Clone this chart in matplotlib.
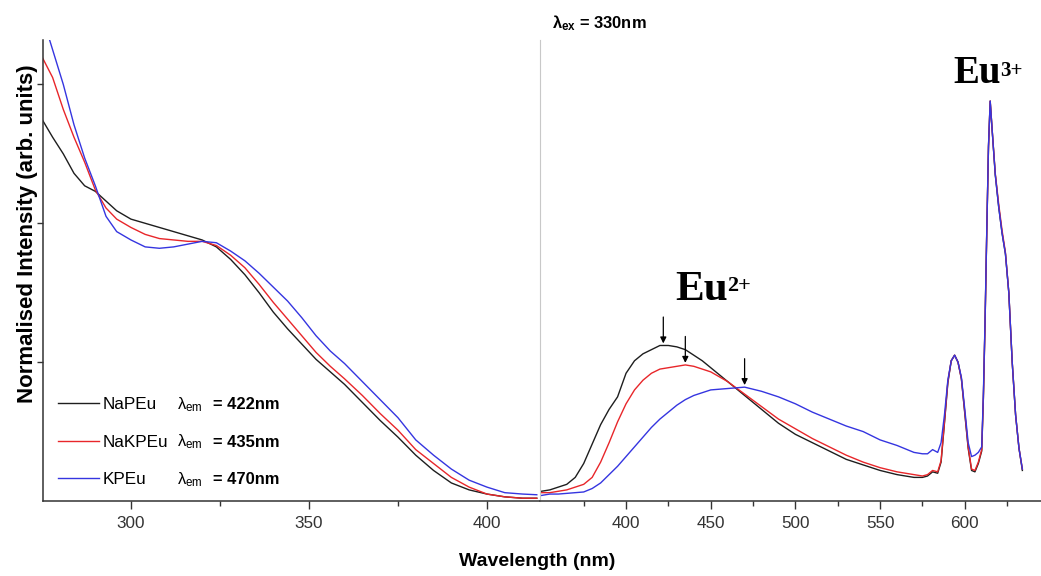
import numpy as np
import matplotlib
matplotlib.use('Agg')
import matplotlib.pyplot as plt
import matplotlib.ticker as ticker
from matplotlib import font_manager

installed = {f.name for f in font_manager.fontManager.ttflist}
if 'Liberation Sans Narrow' in installed:
    NARROW, k = 'Liberation Sans Narrow', 1.0
else:
    NARROW, k = 'Liberation Sans', 0.85
SANS = [NARROW, 'DejaVu Sans']
SERIF = ['Liberation Serif', 'DejaVu Serif']
plt.rcParams['font.family'] = SANS

# excitation spectra (left panel), normalised units
exc_nm = [275, 278, 281, 284, 287, 290, 293, 296, 300, 304, 308, 312, 316, 320,
          324, 328, 332, 336, 340, 344, 348, 352, 356, 360, 365, 370, 375, 380,
          385, 390, 395, 400, 405, 410, 414]
exc_napeu = [2.75, 2.62, 2.50, 2.36, 2.27, 2.23, 2.16, 2.09, 2.03, 2.00, 1.97, 1.94,
             1.91, 1.88, 1.83, 1.74, 1.63, 1.50, 1.36, 1.24, 1.13, 1.02, 0.93, 0.84,
             0.71, 0.58, 0.46, 0.33, 0.22, 0.13, 0.08, 0.05, 0.03, 0.02, 0.02]
exc_nakpeu = [3.20, 3.05, 2.82, 2.62, 2.44, 2.24, 2.11, 2.03, 1.97, 1.92, 1.89, 1.88,
              1.87, 1.87, 1.84, 1.77, 1.68, 1.56, 1.43, 1.31, 1.19, 1.07, 0.97, 0.88,
              0.76, 0.63, 0.51, 0.37, 0.27, 0.17, 0.10, 0.05, 0.03, 0.02, 0.02]
exc_kpeu = [3.50, 3.25, 3.00, 2.71, 2.47, 2.27, 2.05, 1.94, 1.88, 1.83, 1.82, 1.83,
            1.85, 1.87, 1.86, 1.80, 1.73, 1.64, 1.54, 1.44, 1.32, 1.19, 1.08, 0.99,
            0.86, 0.73, 0.60, 0.44, 0.33, 0.23, 0.15, 0.10, 0.06, 0.05, 0.045]

# emission spectra (right panel), lambda_ex = 330 nm
em_nm = [350, 355, 360, 365, 370, 375, 380, 385, 390, 395, 400, 405, 410, 415, 420,
         425, 430, 435, 440, 445, 450,
         460, 470, 480, 490, 500, 510, 520, 530, 540, 550, 560, 570,
         575, 578, 581, 584,
         586, 588, 590, 592, 594, 596, 598, 600, 602, 604, 606, 608, 610,
         611, 612, 613, 614, 615, 616,
         618, 620, 622, 624, 626, 628, 630, 632, 634]
em_napeu = [0.07, 0.08, 0.10, 0.12, 0.17, 0.27, 0.41, 0.55, 0.66, 0.75, 0.92, 1.01,
            1.06, 1.09, 1.12, 1.12, 1.11, 1.09, 1.05, 1.01, 0.96,
            0.86, 0.76, 0.66, 0.56, 0.48, 0.42, 0.36, 0.30, 0.26, 0.22, 0.19, 0.17,
            0.17, 0.18, 0.21, 0.20,
            0.28, 0.56, 0.85, 1.01, 1.05, 1.00, 0.88, 0.63, 0.38, 0.22, 0.21, 0.27, 0.36,
            0.75, 1.30, 1.95, 2.55, 2.88, 2.70,
            2.35, 2.12, 1.93, 1.78, 1.50, 1.00, 0.62, 0.38, 0.22]
em_nakpeu = [0.06, 0.06, 0.07, 0.08, 0.10, 0.12, 0.17, 0.28, 0.42, 0.57, 0.70, 0.80,
             0.87, 0.92, 0.95, 0.96, 0.97, 0.98, 0.97, 0.95, 0.93,
             0.86, 0.77, 0.68, 0.59, 0.52, 0.45, 0.39, 0.33, 0.28, 0.24, 0.21, 0.19,
             0.18, 0.19, 0.22, 0.21,
             0.29, 0.57, 0.86, 1.01, 1.05, 1.00, 0.88, 0.64, 0.39, 0.23, 0.22, 0.28, 0.37,
             0.75, 1.30, 1.95, 2.55, 2.88, 2.70,
             2.36, 2.14, 1.95, 1.79, 1.50, 1.00, 0.62, 0.38, 0.23]
em_kpeu = [0.04, 0.05, 0.05, 0.055, 0.06, 0.065, 0.09, 0.13, 0.19, 0.25, 0.32, 0.39,
           0.46, 0.53, 0.59, 0.64, 0.69, 0.73, 0.76, 0.78, 0.80,
           0.81, 0.82, 0.79, 0.75, 0.70, 0.64, 0.59, 0.54, 0.50, 0.44, 0.40, 0.35,
           0.34, 0.34, 0.37, 0.35,
           0.42, 0.62, 0.87, 1.01, 1.05, 1.00, 0.89, 0.66, 0.42, 0.32, 0.33, 0.35, 0.39,
           0.78, 1.32, 1.96, 2.56, 2.88, 2.70,
           2.35, 2.12, 1.93, 1.78, 1.50, 1.00, 0.62, 0.38, 0.23]

samples = ['NaPEu', 'NaKPEu', 'KPEu']
em_peaks = [422, 435, 470]
ex_wavelength = 330
colors = ['#1e1e1e', '#e8262a', '#3535e0']

W, H = 1041, 576
fig = plt.figure(figsize=(W / 100, H / 100), dpi=100)
ax1 = fig.add_axes([43 / W, 75 / H, 497 / W, 461 / H])
ax2 = fig.add_axes([540 / W, 75 / H, 501 / W, 461 / H])

exc = [exc_napeu, exc_nakpeu, exc_kpeu]
ems = [em_napeu, em_nakpeu, em_kpeu]
handles = []
for name, c, ye, yem in zip(samples, colors, exc, ems):
    l, = ax1.plot(exc_nm, ye, color=c, lw=1.0, label=name)
    ax2.plot(em_nm, yem, color=c, lw=1.0)
    handles.append(l)

for ax in (ax1, ax2):
    ax.set_ylim(0, 3.32)
    ax.spines['top'].set_visible(False)
    ax.spines['right'].set_visible(False)
    ax.spines['bottom'].set_linewidth(1.1)
    ax.spines['bottom'].set_color('#333333')
    ax.tick_params(axis='x', which='major', direction='out', length=6, width=1,
                   pad=5, labelsize=14.5 * k, colors='#333333')
    ax.tick_params(axis='x', which='minor', direction='out', length=3.5, width=1,
                   colors='#333333')
    ax.patch.set_alpha(0)

ax1.set_xlim(275.3, 414.9)
ax1.xaxis.set_major_locator(ticker.MultipleLocator(50))
ax1.xaxis.set_minor_locator(ticker.MultipleLocator(25))
ax1.spines['left'].set_linewidth(1.1)
ax1.spines['left'].set_color('#333333')
ax1.set_yticks([1, 2, 3])
ax1.tick_params(axis='y', direction='out', length=4, width=1, labelleft=False,
                colors='#333333')

ax2.set_xlim(349.2, 645)
ax2.xaxis.set_major_locator(ticker.FixedLocator(list(range(400, 601, 50))))
ax2.xaxis.set_minor_locator(ticker.FixedLocator(list(range(375, 626, 50))))
ax2.spines['left'].set_color('#c8c8c8')
ax2.spines['left'].set_linewidth(0.8)
ax2.set_yticks([])

fig.text(28 / W, 1 - 234 / H, 'Normalised Intensity (arb. units)', rotation=90,
         ha='center', va='center', weight='bold', size=16,
         family=['Liberation Sans', 'DejaVu Sans'])
fig.text(537 / W, 1 - 566 / H, 'Wavelength (nm)', ha='center', va='baseline',
         weight='bold', size=14, family=['Liberation Sans', 'DejaVu Sans'])

# legend with emission wavelengths
leg = ax1.legend(handles=handles, labels=samples, loc='lower left',
                 bbox_to_anchor=(0.012, 0.011), frameon=False, borderpad=0,
                 handlelength=2.4, handletextpad=0.25, labelspacing=1.33,
                 prop={'family': SANS, 'size': 14.5 * k})
fig.canvas.draw()
for txt, wl in zip(leg.get_texts(), em_peaks):
    bb = txt.get_window_extent()
    yc = (bb.y0 + bb.y1) / 2 / H
    fig.text((bb.x0 + 74) / W, yc, r'$\mathregular{λ_{em}}$', va='center',
             size=14 * k)
    fig.text((bb.x0 + 110) / W, yc, '= %dnm' % wl, va='center',
             size=14 * k, weight='bold')

ax2.text(0.024, 1.026, r'$\mathregular{λ_{ex}}$ = %dnm' % ex_wavelength,
         transform=ax2.transAxes, va='baseline', ha='left', size=14 * k,
         weight='bold', clip_on=False)

# arrows marking the emission maxima
for wl, yem in zip(em_peaks, ems):
    tip = np.interp(wl, em_nm, yem) + 0.015
    ax2.annotate('', xy=(wl, tip), xytext=(wl, tip + 0.19),
                 arrowprops=dict(arrowstyle='-|>', color='k', lw=0.9,
                                 mutation_scale=9, shrinkA=0, shrinkB=0))

t2 = ax2.text(428.9, 1.45, 'Eu', family=SERIF, weight='bold', size=31,
              va='baseline', ha='left')
ax2.annotate('2+', xy=(1, 1), xycoords=t2, xytext=(0, -4),
             textcoords='offset points', family=SERIF, weight='bold', size=16,
             va='top', ha='left')
t3 = ax2.text(593.0, 3.01, 'Eu', family=SERIF, weight='bold', size=28,
              va='baseline', ha='left')
ax2.annotate('3+', xy=(1, 1), xycoords=t3, xytext=(0, -4),
             textcoords='offset points', family=SERIF, weight='bold', size=15,
             va='top', ha='left')

fig.savefig('out.png', dpi=100)
